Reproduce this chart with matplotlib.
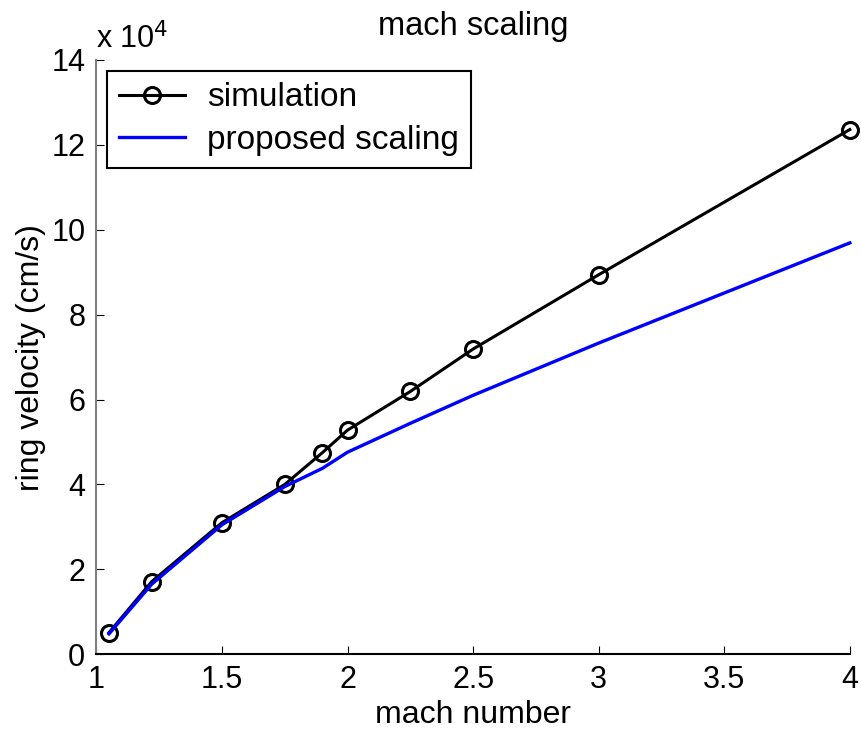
import matplotlib
matplotlib.use("Agg")
import matplotlib.pyplot as plt
from matplotlib.ticker import FuncFormatter

plt.rcParams['font.family'] = ['Liberation Sans', 'DejaVu Sans']

mach = [1.05, 1.22, 1.5, 1.75, 1.9, 2.0, 2.25, 2.5, 3.0, 4.0]
simulation = [5100, 17100, 31000, 40000, 47500, 52800, 61900, 71900, 89400, 123600]
proposed = [4800, 16500, 30500, 39500, 43800, 47600, 54400, 61000, 73300, 96900]

xticks = [1, 1.5, 2, 2.5, 3, 3.5, 4]
yticks = [0, 20000, 40000, 60000, 80000, 100000, 120000, 140000]

fig = plt.figure(figsize=(8.61, 7.31), dpi=100)
ax = fig.add_axes([0.112, 0.105, 0.875, 0.813])

ax.plot(mach, simulation, color='black', lw=2.2, marker='o', ms=11.5,
        mfc='none', mew=2.2, label='simulation', clip_on=False)
ax.plot(mach, proposed, color='#0000ff', lw=2.4, label='proposed scaling',
        clip_on=False)

ax.set_xlim(1, 4)
ax.set_ylim(0, 140000)
ax.set_xticks(xticks)
ax.set_yticks(yticks)
ax.xaxis.set_major_formatter(FuncFormatter(lambda v, p: f"{v:g}"))
ax.yaxis.set_major_formatter(FuncFormatter(lambda v, p: f"{v/1e4:g}"))
ax.tick_params(direction='in', length=6, labelsize=22, pad=8)

ax.spines['top'].set_visible(False)
ax.spines['right'].set_visible(False)
ax.spines['left'].set_color('#808080')
ax.spines['left'].set_linewidth(1.5)
ax.spines['bottom'].set_linewidth(1.5)

ax.set_xlabel('mach number', fontsize=23, labelpad=3)
ax.set_ylabel('ring velocity (cm/s)', fontsize=23, labelpad=4)
ax.set_title('mach scaling', fontsize=23.5, pad=18)
ax.text(0.0, 1.02, r'x 10$^4$', transform=ax.transAxes, fontsize=22,
        ha='left', va='baseline')

leg = ax.legend(loc='upper left', fontsize=24, frameon=True, fancybox=False,
                edgecolor='black', framealpha=1, borderpad=0.35,
                handlelength=2.0, handletextpad=0.65, labelspacing=0.35,
                borderaxespad=0.32)
leg.get_frame().set_linewidth(1.5)

fig.savefig('out.png', dpi=100)
